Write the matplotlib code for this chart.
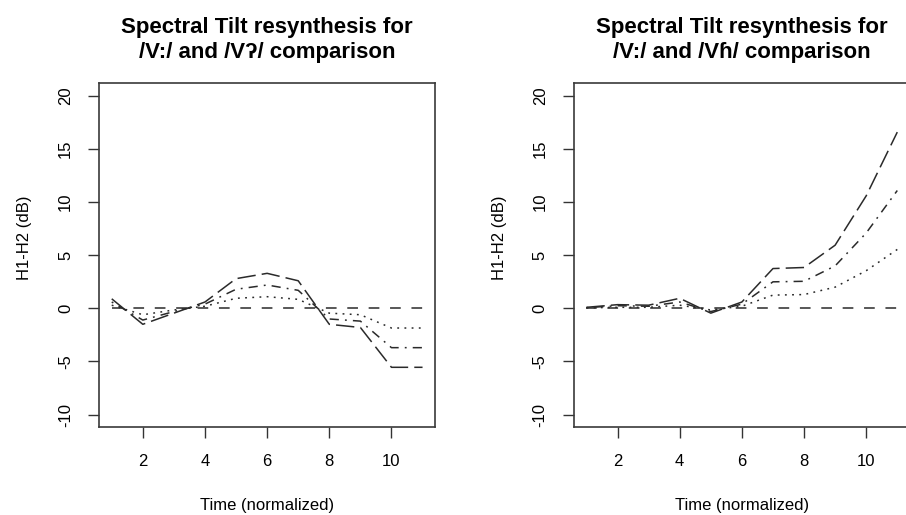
#!/usr/bin/env python3

import matplotlib
matplotlib.use("Agg")
import matplotlib.pyplot as plt

plt.rcParams["font.family"] = ["Liberation Sans", "DejaVu Sans"]

# time points (normalized)
time = [1, 2, 3, 4, 5, 6, 7, 8, 9, 10, 11]

# left panel: /V:/ vs /V?/ resynthesis steps (H1-H2 in dB)
glottal_base = [0, 0, 0, 0, 0, 0, 0, 0, 0, 0, 0]
glottal_step1 = [0.3, -0.6, -0.15, 0.2, 0.95, 1.1, 0.85, -0.45, -0.6, -1.85, -1.85]
glottal_step2 = [0.6, -1.1, -0.3, 0.4, 1.8, 2.2, 1.7, -1.0, -1.2, -3.7, -3.7]
glottal_step3 = [0.9, -1.5, -0.45, 0.6, 2.8, 3.3, 2.6, -1.5, -1.8, -5.55, -5.55]

# right panel: /V:/ vs /Vh/ resynthesis steps
breathy_base = [0, 0, 0, 0, 0, 0, 0, 0, 0, 0, 0]
breathy_step1 = [0.05, 0.1, 0.1, 0.3, -0.15, 0.2, 1.25, 1.3, 2.0, 3.55, 5.55]
breathy_step2 = [0.07, 0.25, 0.2, 0.6, -0.3, 0.4, 2.5, 2.55, 4.0, 7.1, 11.1]
breathy_step3 = [0.1, 0.35, 0.3, 0.95, -0.45, 0.6, 3.75, 3.85, 5.95, 10.6, 16.6]

titles = ["Spectral Tilt resynthesis for\n/V:/ and /V\u0294/ comparison",
          "Spectral Tilt resynthesis for\n/V:/ and /V\u0266/ comparison"]
xticks = [2, 4, 6, 8, 10]
yticks = [-10, -5, 0, 5, 10, 15, 20]

LINE = "#2a2a2a"
dash_styles = [(0, (7, 7)), (0, (1.2, 3.5)), (0, (1.2, 4, 6, 4)), (0, (12, 4))]


def draw_panel(ax, series, title):
    for ys, ls in zip(series, dash_styles):
        ax.plot(time, ys, color=LINE, lw=1.1, linestyle=ls)
    ax.set_xlim(0.6, 11.4)
    ax.set_ylim(-11.2, 21.2)
    ax.set_xticks(xticks)
    ax.set_yticks(yticks)
    ax.set_yticklabels([str(v) for v in yticks], rotation=90, va="center",
                       ha="right", rotation_mode="default")
    ax.tick_params(axis="both", direction="out", length=8, width=1.0,
                   color="#333333", labelsize=12, pad=11)
    for sp in ax.spines.values():
        sp.set_linewidth(1.2)
        sp.set_color("#3a3a3a")
    ax.set_xlabel("Time (normalized)", fontsize=12)
    ax.set_ylabel("H1-H2 (dB)", fontsize=12)
    ax.xaxis.set_label_coords(0.5, -0.205)
    ax.yaxis.set_label_coords(-0.2, 0.55)
    ax.text(0.5, 1.06, title, transform=ax.transAxes, ha="center", va="bottom",
            fontsize=16, fontweight="bold", linespacing=1.25)


fig = plt.figure(figsize=(9.06, 5.15), dpi=100)
ax1 = fig.add_axes([0.1096, 0.1703, 0.3705, 0.668])
ax2 = fig.add_axes([0.6336, 0.1703, 0.3705, 0.668])

draw_panel(ax1, [glottal_base, glottal_step1, glottal_step2, glottal_step3], titles[0])
draw_panel(ax2, [breathy_base, breathy_step1, breathy_step2, breathy_step3], titles[1])

fig.savefig("out.png", dpi=100)
